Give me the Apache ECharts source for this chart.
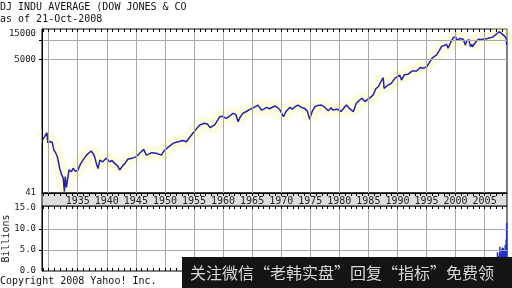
<!DOCTYPE html>
<html><head><meta charset="utf-8">
<script src="https://cdn.jsdelivr.net/npm/echarts@6/dist/echarts.min.js"></script>
<style>html,body{margin:0;padding:0;background:#fff}#c{width:512px;height:288px}</style>
</head><body><div id="c"></div>
<script>
const titleLine1 = 'DJ INDU AVERAGE (DOW JONES & CO';
const titleLine2 = 'as of 21-Oct-2008';
const copyrightText = 'Copyright 2008 Yahoo! Inc.';
const watermarkText = '关注微信“老韩实盘”回复“指标”免费领';

const priceYears = [1928.85,1929.2,1929.7,1929.85,1930.2,1930.6,1930.9,1931.2,1931.5,1931.9,1932.2,1932.5,1932.7,1932.85,1933.05,1933.5,1933.9,1934.2,1934.6,1935.0,1935.5,1935.9,1936.5,1936.8,1937.3,1937.6,1937.9,1938.3,1938.5,1938.8,1939.3,1939.6,1939.9,1940.2,1940.5,1940.9,1941.4,1941.9,1942.2,1942.7,1943.1,1943.6,1943.9,1944.5,1945.1,1945.95,1946.35,1946.8,1947.3,1947.7,1948.5,1949.4,1949.8,1950.3,1950.5,1951.4,1951.9,1952.5,1953.0,1953.7,1954.2,1954.8,1955.5,1956.0,1956.3,1956.8,1957.3,1957.8,1958.0,1958.6,1959.4,1959.8,1960.6,1961.1,1961.7,1962.2,1962.6,1962.9,1963.4,1964.0,1964.6,1965.2,1965.5,1966.0,1966.6,1967.0,1967.5,1968.0,1968.9,1969.3,1969.8,1970.4,1970.8,1971.5,1971.9,1972.5,1972.9,1973.5,1974.0,1974.5,1974.9,1975.3,1975.8,1976.3,1976.9,1977.5,1978.1,1978.6,1978.9,1979.5,1979.9,1980.1,1980.3,1981.2,1981.7,1982.4,1982.9,1983.5,1983.9,1984.4,1984.7,1985.3,1985.8,1986.3,1986.7,1987.2,1987.55,1987.7,1988.0,1988.4,1988.9,1989.55,1989.8,1990.4,1990.55,1990.7,1991.2,1991.8,1992.5,1993.3,1993.9,1994.3,1994.7,1995.1,1995.6,1996.0,1996.7,1997.2,1997.6,1997.9,1998.45,1998.7,1998.9,1999.2,1999.6,2000.0,2000.2,2000.8,2001.3,2001.6,2001.7,2001.9,2002.3,2002.55,2002.8,2002.9,2003.2,2003.6,2004.0,2004.4,2004.75,2005.3,2005.9,2006.4,2006.8,2007.1,2007.5,2007.6,2007.8,2008.0,2008.2,2008.3,2008.55,2008.7,2008.75,2008.8];
const priceValues = [276,300,359,250,262,255,190,175,150,99,80,70,43,74,50,94,88,100,90,92,118,134,160,171,186,172,152,110,99,134,126,120,143,140,126,132,118,108,94,108,118,138,134,145,152,182,197,160,168,175,171,160,185,204,195,245,255,262,272,259,300,351,420,475,500,504,490,430,421,480,637,650,601,650,720,690,532,620,720,770,832,880,850,971,812,840,895,850,938,900,812,637,760,895,840,930,971,890,863,780,582,760,914,960,971,900,792,880,810,832,820,812,770,971,870,765,1030,1164,1240,1100,1097,1270,1390,1760,1876,2300,2598,1771,1900,1996,2100,2540,2650,2861,2950,2391,2900,2934,3300,3305,3750,3650,3725,3900,4623,5300,5870,6900,8000,7921,8630,7500,7475,9400,10940,11400,10000,10690,10400,10070,8400,9700,10200,8000,8600,7921,7900,9720,10400,10200,10430,10500,10940,11200,12000,12060,13600,13000,13910,12600,12000,12800,11300,11400,10300,8420];

const volumeYears = [2007.04,2007.12,2007.21,2007.29,2007.37,2007.46,2007.54,2007.62,2007.71,2007.79,2007.87,2007.96,2008.04,2008.12,2008.21,2008.29,2008.37,2008.46,2008.54,2008.62,2008.71,2008.79];
const volumeValues = [2.8,3.0,4.5,3.2,3.4,3.6,4.2,5.8,4.0,4.3,5.2,4.1,5.6,4.8,5.5,4.6,4.2,5.0,6.2,5.0,7.5,11.5];

const xLabelYears = [1935,1940,1945,1950,1955,1960,1965,1970,1975,1980,1985,1990,1995,2000,2005];
const xGridYears = [1930,1935,1940,1945,1950,1955,1960,1965,1970,1975,1980,1985,1990,1995,2000,2005];
const priceLabelValues = [41,5000,15000];
const priceGridValues = [5000,10000];
const volumeLabelValues = [0,5,10,15];
const volumeGridValues = [5,10];

const X_MIN = 1928.85, X_MAX = 2008.85;
const yearTicks = [];
for (let y = 1929; y <= 2008; y++) yearTicks.push(y);

const mono = '"DejaVu Sans Mono"';
const gridColor = '#a9a9a9';
const priceData = priceYears.map((y,i)=>[y, priceValues[i]]);
const volumeData = volumeYears.map((y,i)=>[y, volumeValues[i]]);

function xAx(gridIndex, position, extra) {
  return Object.assign({
    type: 'value', gridIndex, position, min: X_MIN, max: X_MAX, z: 10,
    axisLine: {show: false},
    axisTick: {show: false},
    axisLabel: {show: false},
    splitLine: {show: false}
  }, extra);
}

const chart = echarts.init(document.getElementById('c'), null, {renderer: 'canvas'});
chart.setOption({
  animation: false,
  backgroundColor: '#fff',
  grid: [
    {left: 42, top: 29, width: 465, height: 164, show: true, borderColor: '#000', borderWidth: 1, backgroundColor: '#fff', containLabel: false, outerBoundsMode: 'none'},
    {left: 42, top: 206, width: 465, height: 65, show: true, borderColor: '#000', borderWidth: 1, backgroundColor: '#fff', containLabel: false, outerBoundsMode: 'none'}
  ],
  xAxis: [
    xAx(0, 'bottom', {
      axisLine: {show: true, lineStyle: {color: '#000', width: 1}},
      axisTick: {show: true, customValues: yearTicks, length: 3, inside: false, lineStyle: {color: '#000'}},
      axisLabel: {show: true, customValues: xLabelYears, margin: 3, color: '#222', fontFamily: mono, fontSize: 10, formatter: v => String(v)}
    }),
    xAx(0, 'top', {
      axisTick: {show: true, customValues: yearTicks, length: 3, inside: true, lineStyle: {color: '#000'}}
    }),
    xAx(0, 'top', {
      axisTick: {show: false, customValues: xGridYears},
      splitLine: {show: true, lineStyle: {color: gridColor, width: 1}}
    }),
    xAx(1, 'bottom', {
      axisTick: {show: true, customValues: yearTicks, length: 3, inside: true, lineStyle: {color: '#000'}}
    }),
    xAx(1, 'top', {
      axisTick: {show: true, customValues: yearTicks, length: 3, inside: true, lineStyle: {color: '#000'}}
    }),
    xAx(1, 'top', {
      axisTick: {show: false, customValues: xGridYears},
      splitLine: {show: true, lineStyle: {color: gridColor, width: 1}}
    })
  ],
  yAxis: [
    {
      type: 'log', logBase: 10, gridIndex: 0, min: 41, max: 15000, z: 10,
      axisLine: {show: true, lineStyle: {color: '#000'}},
      axisTick: {show: true, customValues: priceGridValues, length: 3, lineStyle: {color: '#000'}},
      axisLabel: {customValues: priceLabelValues, margin: 6, color: '#222', fontFamily: mono, fontSize: 9,
        formatter: v => Math.round(v) === 15000 ? '{low|15000}' : String(Math.round(v)),
        rich: {low: {fontFamily: mono, fontSize: 9, color: '#222', padding: [9, 0, 0, 0]}}},
      splitLine: {show: true, lineStyle: {color: gridColor, width: 1}}
    },
    {
      type: 'value', gridIndex: 1, min: 0, max: 15.5, z: 10,
      name: 'Billions', nameLocation: 'middle', nameRotate: 90, nameGap: 31, nameMoveOverlap: false,
      nameTextStyle: {color: '#222', fontFamily: mono, fontSize: 10},
      axisLine: {show: true, lineStyle: {color: '#000'}},
      axisTick: {show: true, customValues: volumeGridValues, length: 3, lineStyle: {color: '#000'}},
      axisLabel: {customValues: volumeLabelValues, margin: 6, color: '#222', fontFamily: mono, fontSize: 9, formatter: v => Number(v).toFixed(1)},
      splitLine: {show: true, lineStyle: {color: gridColor, width: 1}}
    }
  ],
  series: [
    {type: 'line', xAxisIndex: 0, yAxisIndex: 0, data: priceData, showSymbol: false, silent: true, z: 1,
     lineStyle: {color: 'rgba(250,245,170,0.35)', width: 14}},
    {type: 'line', xAxisIndex: 0, yAxisIndex: 0, data: priceData, showSymbol: false, z: 3,
     lineStyle: {color: '#2424a8', width: 1.5}},
    {type: 'bar', xAxisIndex: 3, yAxisIndex: 1, data: volumeData, barWidth: 1.5, z: 3,
     itemStyle: {color: '#2233cc'}}
  ],
  graphic: [
    {type: 'text', x: 0, y: 7.5, z: 20, style: {text: titleLine1, font: '10px ' + mono, fill: '#111', verticalAlign: 'middle'}},
    {type: 'text', x: 0, y: 19, z: 20, style: {text: titleLine2, font: '10px ' + mono, fill: '#111', verticalAlign: 'middle'}},
    {type: 'rect', z: 0, shape: {x: 42, y: 193, width: 465, height: 13}, style: {fill: '#dedede', stroke: '#000', lineWidth: 1}},
    {type: 'text', x: 0, y: 281.5, z: 20, style: {text: copyrightText, font: '10px ' + mono, fill: '#111', verticalAlign: 'middle'}},
    {type: 'rect', z: 30, shape: {x: 182, y: 257, width: 330, height: 31}, style: {fill: '#141414'}},
    {type: 'text', x: 190, y: 272.5, z: 31, style: {text: watermarkText, font: '16px "Noto Sans CJK SC"', fill: '#d8d8d8', verticalAlign: 'middle'}}
  ]
});
</script></body></html>
